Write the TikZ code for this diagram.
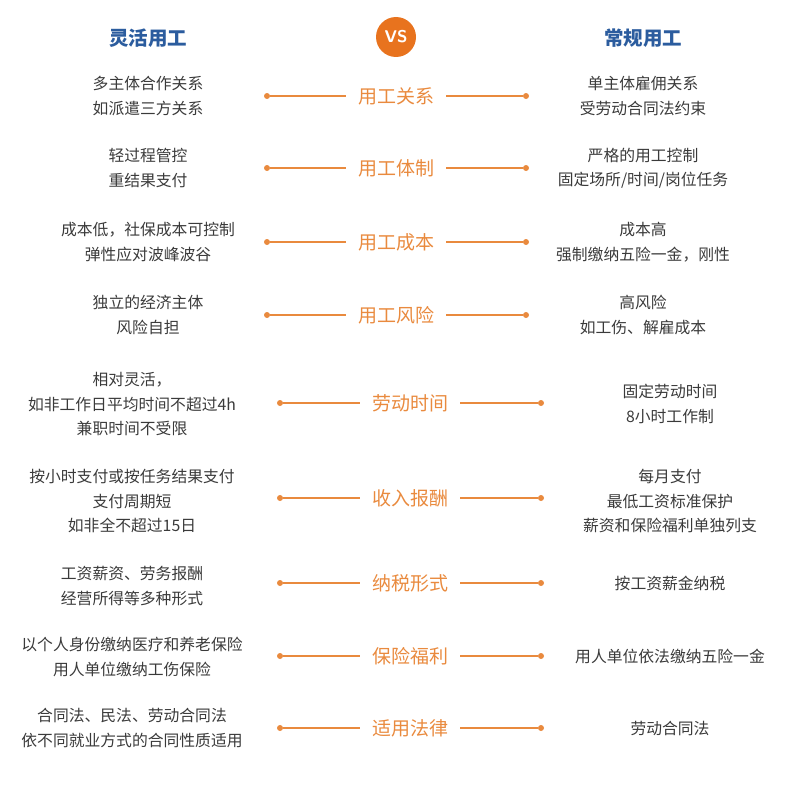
\documentclass[tikz,border=0pt]{standalone}
\usepackage{fontspec}
\newfontfamily\cjk{Noto Sans CJK SC}
\definecolor{vsorange}{HTML}{E8731E}
\definecolor{labelorange}{HTML}{E98A3E}
\definecolor{titleblue}{HTML}{2B5C9E}
\definecolor{textgray}{HTML}{3A3A3A}
\begin{document}
\begin{tikzpicture}[x=1pt, y=-1pt]
    % Define styles
    \tikzset{
        headtitle/.style={font=\cjk\bfseries\fontsize{19.5}{22}\selectfont, text=titleblue},
        vscircle/.style={circle, fill=vsorange, minimum size=40pt, inner sep=0pt, text=white, font=\sffamily\bfseries\fontsize{17}{20}\selectfont},
        sidetext/.style={align=center, text=textgray, font=\cjk\fontsize{15.8}{24.5}\selectfont},
        itemlabel/.style={text=labelorange, inner xsep=12pt, font=\cjk\fontsize{19}{22}\selectfont},
        enddot/.style={circle, fill=labelorange, minimum size=6pt, inner sep=0pt},
        linkline/.style={draw=labelorange, line width=1.6pt}
    }
    \useasboundingbox (0,0) rectangle (800,800);

    % Headings
    \node[headtitle] (hleft) at (148,38) {灵活用工};
    \node[vscircle] (vs) at (396,37) {VS};
    \node[headtitle] (hright) at (643,38) {常规用工};

    % Row 1
    \node[sidetext] (a1) at (148,96) {多主体合作关系\\如派遣三方关系};
    \node[itemlabel] (m1) at (396,96) {用工关系};
    \node[sidetext] (b1) at (643,96) {单主体雇佣关系\\受劳动合同法约束};
    \node[enddot] (l1) at (267,96) {};
    \node[enddot] (r1) at (526,96) {};

    % Row 2
    \node[sidetext] (a2) at (148,168) {轻过程管控\\重结果支付};
    \node[itemlabel] (m2) at (396,168) {用工体制};
    \node[sidetext] (b2) at (643,168) {严格的用工控制\\固定场所/时间/岗位任务};
    \node[enddot] (l2) at (267,168) {};
    \node[enddot] (r2) at (526,168) {};

    % Row 3
    \node[sidetext] (a3) at (148,242) {成本低，社保成本可控制\\弹性应对波峰波谷};
    \node[itemlabel] (m3) at (396,242) {用工成本};
    \node[sidetext] (b3) at (643,242) {成本高\\强制缴纳五险一金，刚性};
    \node[enddot] (l3) at (267,242) {};
    \node[enddot] (r3) at (526,242) {};

    % Row 4
    \node[sidetext] (a4) at (148,315) {独立的经济主体\\风险自担};
    \node[itemlabel] (m4) at (396,315) {用工风险};
    \node[sidetext] (b4) at (643,315) {高风险\\如工伤、解雇成本};
    \node[enddot] (l4) at (267,315) {};
    \node[enddot] (r4) at (526,315) {};

    % Row 5
    \node[sidetext] (a5) at (132,404) {相对灵活，\\如非工作日平均时间不超过4h\\兼职时间不受限};
    \node[itemlabel] (m5) at (410,403) {劳动时间};
    \node[sidetext] (b5) at (670,404) {固定劳动时间\\8小时工作制};
    \node[enddot] (l5) at (280,403) {};
    \node[enddot] (r5) at (541,403) {};

    % Row 6
    \node[sidetext] (a6) at (132,501) {按小时支付或按任务结果支付\\支付周期短\\如非全不超过15日};
    \node[itemlabel] (m6) at (410,498) {收入报酬};
    \node[sidetext] (b6) at (670,501) {每月支付\\最低工资标准保护\\薪资和保险福利单独列支};
    \node[enddot] (l6) at (280,498) {};
    \node[enddot] (r6) at (541,498) {};

    % Row 7
    \node[sidetext] (a7) at (132,586) {工资薪资、劳务报酬\\经营所得等多种形式};
    \node[itemlabel] (m7) at (410,583) {纳税形式};
    \node[sidetext] (b7) at (670,583) {按工资薪金纳税};
    \node[enddot] (l7) at (280,583) {};
    \node[enddot] (r7) at (541,583) {};

    % Row 8
    \node[sidetext] (a8) at (132,657) {以个人身份缴纳医疗和养老保险\\用人单位缴纳工伤保险};
    \node[itemlabel] (m8) at (410,656) {保险福利};
    \node[sidetext] (b8) at (670,656) {用人单位依法缴纳五险一金};
    \node[enddot] (l8) at (280,656) {};
    \node[enddot] (r8) at (541,656) {};

    % Row 9
    \node[sidetext] (a9) at (132,728) {合同法、民法、劳动合同法\\依不同就业方式的合同性质适用};
    \node[itemlabel] (m9) at (410,728) {适用法律};
    \node[sidetext] (b9) at (670,728) {劳动合同法};
    \node[enddot] (l9) at (280,728) {};
    \node[enddot] (r9) at (541,728) {};

    % Connecting lines
    \draw[linkline] (l1) -- (m1);  \draw[linkline] (m1) -- (r1);
    \draw[linkline] (l2) -- (m2);  \draw[linkline] (m2) -- (r2);
    \draw[linkline] (l3) -- (m3);  \draw[linkline] (m3) -- (r3);
    \draw[linkline] (l4) -- (m4);  \draw[linkline] (m4) -- (r4);
    \draw[linkline] (l5) -- (m5);  \draw[linkline] (m5) -- (r5);
    \draw[linkline] (l6) -- (m6);  \draw[linkline] (m6) -- (r6);
    \draw[linkline] (l7) -- (m7);  \draw[linkline] (m7) -- (r7);
    \draw[linkline] (l8) -- (m8);  \draw[linkline] (m8) -- (r8);
    \draw[linkline] (l9) -- (m9);  \draw[linkline] (m9) -- (r9);
\end{tikzpicture}
\end{document}
